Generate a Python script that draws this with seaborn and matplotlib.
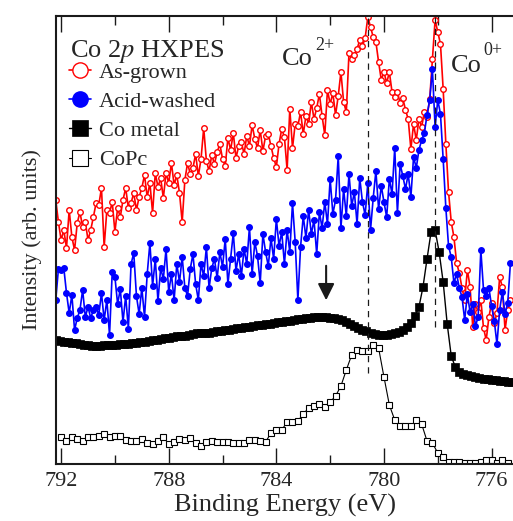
import numpy as np
import pandas as pd
import matplotlib
matplotlib.use('Agg')
import matplotlib.pyplot as plt
import seaborn as sns

# ---- data (intensities in arb. units) ----
# As-grown / Acid-washed: 0.1 eV steps starting at 792.2 eV
as_grown = [264, 242, 224, 234, 216, 254, 227, 214, 241, 252,
            237, 242, 224, 234, 247, 261, 259, 276, 217, 254,
            251, 262, 232, 256, 247, 264, 276, 256, 261, 271,
            254, 267, 276, 289, 267, 281, 251, 291, 277, 286,
            266, 291, 281, 301, 279, 289, 271, 242, 284, 301,
            290, 296, 310, 288, 305, 336, 303, 293, 309, 300,
            312, 320, 305, 298, 326, 314, 331, 306, 318, 322,
            310, 328, 318, 339, 325, 316, 334, 313, 328, 330,
            318, 306, 297, 320, 335, 327, 294, 355, 316, 340,
            338, 352, 330, 348, 340, 362, 345, 356, 370, 348,
            329, 374, 360, 371, 349, 368, 392, 362, 352, 411,
            405, 409, 415, 424, 418, 426, 447, 437, 427, 422,
            402, 384, 392, 381, 392, 372, 367, 372, 361, 366,
            354, 345, 315, 340, 324, 345, 337, 352, 347, 365,
            405, 444, 432, 420, 375, 320, 272, 242, 227, 201,
            191, 176, 164, 194, 177, 137, 160, 152, 164, 136,
            124, 147, 161, 141, 151, 187, 177, 134, 154, 164]

acid_washed = [164, 195, 194, 196, 171, 151, 169, 134, 146, 154,
               174, 147, 157, 146, 154, 157, 149, 171, 144, 164,
               129, 192, 187, 160, 175, 142, 168, 135, 200, 211,
               168, 150, 176, 147, 190, 221, 178, 205, 163, 196,
               185, 215, 172, 190, 164, 200, 182, 207, 176, 168,
               195, 210, 180, 164, 200, 188, 217, 176, 196, 205,
               186, 212, 197, 225, 180, 205, 231, 193, 210, 188,
               215, 200, 237, 190, 222, 208, 181, 230, 212, 198,
               226, 205, 245, 218, 232, 200, 234, 212, 261, 222,
               164, 217, 248, 226, 254, 230, 244, 210, 252, 236,
               262, 240, 285, 250, 264, 308, 236, 275, 248, 290,
               258, 272, 240, 286, 262, 249, 281, 234, 266, 293,
               255, 278, 262, 247, 285, 270, 316, 251, 300, 288,
               275, 290, 267, 307, 296, 314, 324, 331, 349, 364,
               395, 337, 364, 350, 305, 256, 218, 207, 181, 190,
               176, 167, 144, 170, 152, 160, 138, 147, 214, 174,
               168, 176, 158, 143, 120, 154, 172, 150, 161, 201]

# Co metal: 0.15 eV steps starting at 792.2 eV
co_metal = [124, 123, 122, 122, 121, 121, 120, 119, 119, 118,
            118, 118, 119, 119, 119, 119, 120, 120, 120, 121,
            121, 122, 122, 123, 124, 124, 125, 126, 126, 127,
            128, 128, 128, 129, 130, 131, 131, 131, 131, 132,
            133, 133, 134, 134, 135, 136, 136, 137, 137, 138,
            139, 139, 140, 140, 141, 142, 142, 143, 143, 144,
            145, 145, 146, 146, 147, 147, 147, 147, 146, 146,
            145, 144, 142, 140, 138, 136, 134, 133, 131, 130,
            129, 129, 129, 130, 131, 132, 134, 137, 141, 148,
            157, 177, 205, 232, 234, 212, 182, 140, 108, 97,
            92, 90, 89, 88, 87, 86, 85, 85, 84, 84,
            83, 83, 82, 82]

# CoPc: 0.2 eV steps starting at 792.0 eV
copc = [27, 23, 27, 25, 23, 27, 27, 28, 30, 27,
        28, 28, 24, 23, 23, 25, 21, 20, 23, 27,
        20, 22, 25, 24, 26, 21, 18, 22, 23, 22,
        22, 22, 21, 21, 21, 24, 24, 23, 22, 31,
        34, 34, 42, 42, 43, 50, 56, 58, 60, 57,
        62, 68, 78, 94, 109, 114, 113, 113, 119, 116,
        87, 59, 44, 38, 38, 38, 44, 40, 23, 21,
        11, 7, 2, 2, 2, 1, 1, 1, 2, 4,
        4, 1, 4, 1]

e_fine = 792.2 - 0.1 * np.arange(len(as_grown))
e_metal = 792.2 - 0.15 * np.arange(len(co_metal))
e_copc = 792.0 - 0.2 * np.arange(len(copc))

peak_energies = [780.6, 778.1]      # Co2+ and Co0+ guide lines
peak_line_bottoms = [91, 137]
arrow_energy = 782.15

# ---- style ----
sns.set_theme(style='ticks')
plt.rcParams['font.family'] = ['Liberation Serif', 'DejaVu Serif']
plt.rcParams['mathtext.fontset'] = 'stix'
plt.rcParams['axes.linewidth'] = 1.5

fig = plt.figure(figsize=(5.13, 5.21), dpi=100)
ax = fig.add_axes([56 / 513, 57 / 521, 459 / 513, 448 / 521])

sns.lineplot(x=e_fine, y=as_grown, ax=ax, sort=False, estimator=None,
             color='red', lw=1.2, marker='o', markersize=4,
             markerfacecolor='white', markeredgecolor='red', markeredgewidth=1,
             label='As-grown')
sns.lineplot(x=e_fine, y=acid_washed, ax=ax, sort=False, estimator=None,
             color='blue', lw=1.2, marker='o', markersize=4,
             markerfacecolor='blue', markeredgecolor='blue', markeredgewidth=1,
             label='Acid-washed')
sns.lineplot(x=e_metal, y=co_metal, ax=ax, sort=False, estimator=None,
             color='black', lw=1.0, marker='s', markersize=5.2,
             markerfacecolor='black', markeredgecolor='black', markeredgewidth=0.5,
             label='Co metal')
sns.lineplot(x=e_copc, y=copc, ax=ax, sort=False, estimator=None,
             color='black', lw=0.8, marker='s', markersize=4,
             markerfacecolor='white', markeredgecolor='black', markeredgewidth=0.8,
             label='CoPc')

ax.vlines(peak_energies, peak_line_bottoms, 448, colors='k', lw=0.9,
          linestyles=(0, (5, 4)))
ax.annotate('', xy=(arrow_energy, 161), xytext=(arrow_energy, 201),
            arrowprops=dict(arrowstyle='-|>', color='k', lw=1.5, mutation_scale=25))

# valence labels (superscripts drawn as separate smaller text)
ax.text(783.8, 399, 'Co', fontsize=19, va='baseline')
ax.text(782.56, 414, '2+', fontsize=13, va='baseline')
ax.text(777.5, 392, 'Co', fontsize=19, va='baseline')
ax.text(776.32, 409, '0+', fontsize=13, va='baseline')
ax.text(791.67, 407, 'Co 2$p$ HXPES', fontsize=19, va='baseline')

ax.set_xlim(792.19, 775.13)
ax.set_ylim(0, 448)
ax.set_xticks([792, 788, 784, 780, 776])
ax.set_xticks([790, 786, 782, 778], minor=True)
ax.set_yticks([])
ax.tick_params(axis='x', which='both', direction='in', top=True, labelsize=16,
               width=1.0, color='k', pad=6)
ax.tick_params(axis='x', which='major', length=11.5)
ax.tick_params(axis='x', which='minor', length=6.5)
for s in ax.spines.values():
    s.set_visible(True)
    s.set_color('k')

ax.set_xlabel('Binding Energy (eV)', fontsize=19, labelpad=2)
ax.set_ylabel('Intensity (arb. units)', fontsize=16, labelpad=10)

leg = ax.legend(loc='upper left', bbox_to_anchor=(0.01, 0.917),
                frameon=False, fontsize=16, handlelength=0.95,
                handletextpad=0.37, labelspacing=0.39, borderaxespad=0.0)
for h in leg.legend_handles:
    h.set_markersize(11)

fig.savefig('out.png', dpi=100)
